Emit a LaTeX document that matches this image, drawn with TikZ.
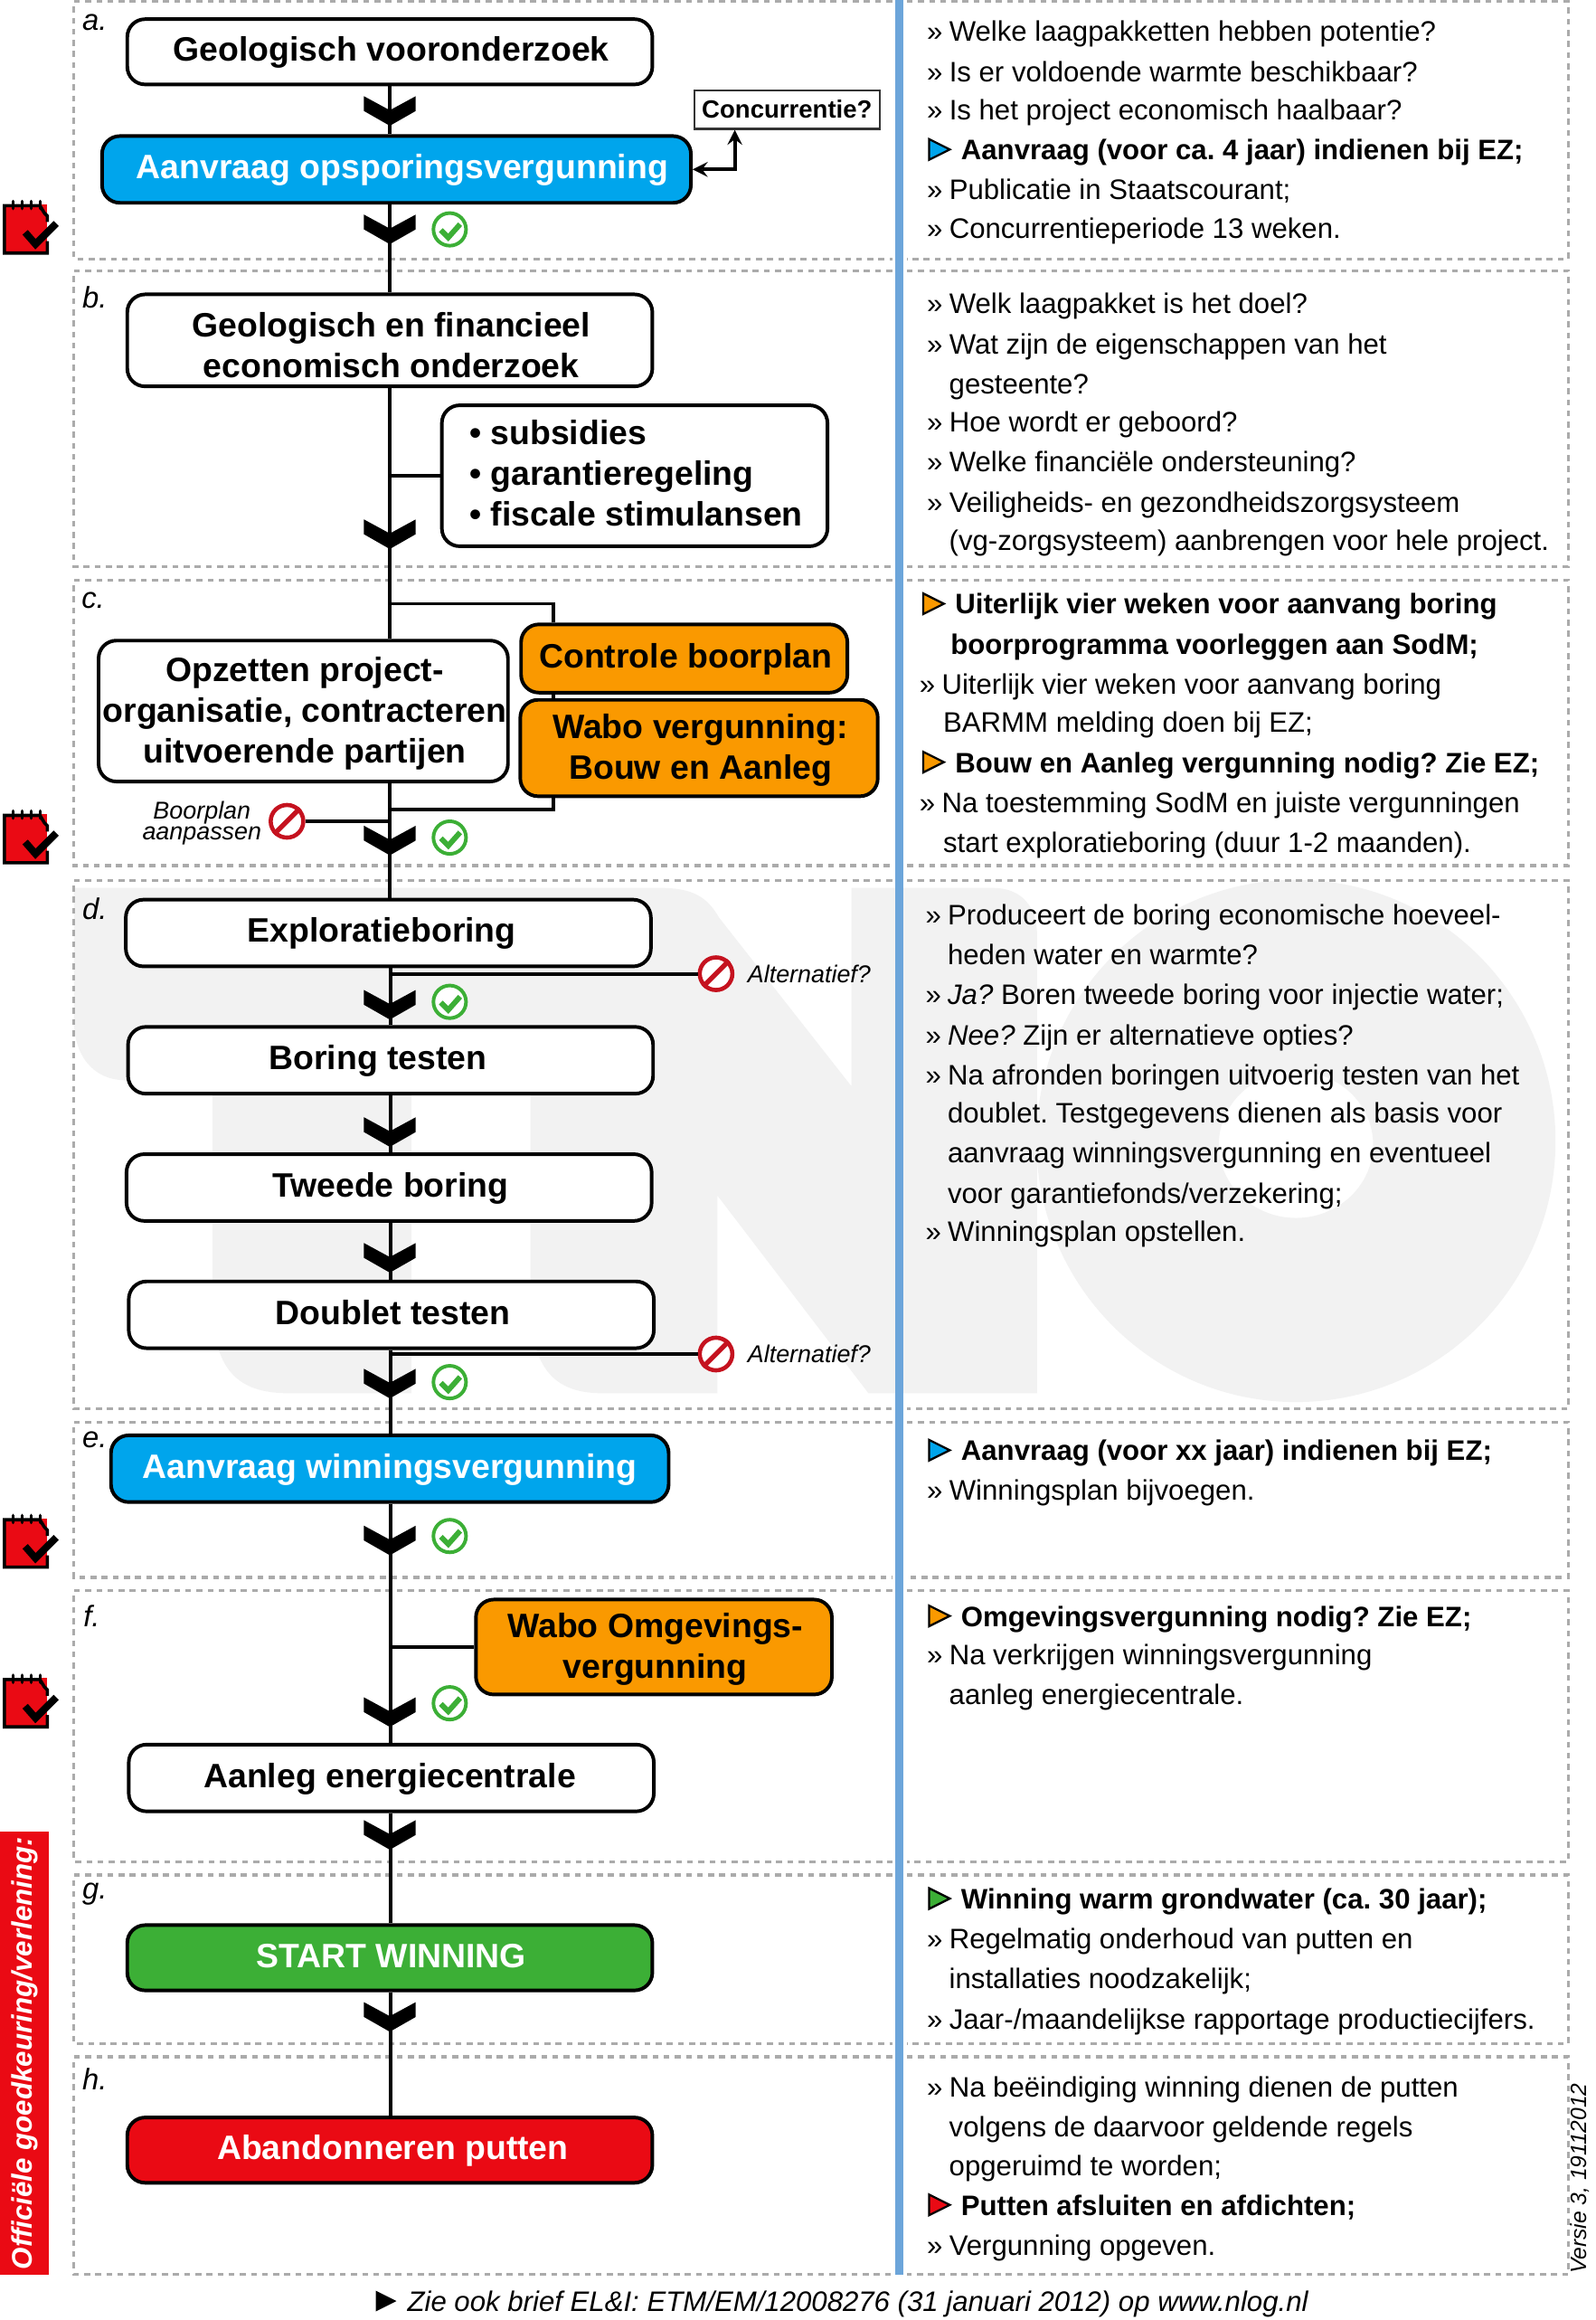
\documentclass[tikz,border=0pt]{standalone}
\usepackage{fontspec}
\setmainfont{Liberation Sans}
\definecolor{tnoblue}{HTML}{00A5EC}
\definecolor{tnoorange}{HTML}{FA9900}
\definecolor{tnogreen}{HTML}{3CAF36}
\definecolor{tnored}{HTML}{EA0A14}
\definecolor{stopred}{HTML}{C5121F}
\definecolor{midblue}{HTML}{6CA5DA}
\tikzset{
	stepbox/.style={draw=black, fill=white, rounded corners=6pt, line width=1.2pt, inner sep=0pt, align=center, font=\bfseries\fontsize{11.4}{13.7}\selectfont, execute at begin node={\hspace*{1pt}\rule[-2.1pt]{0pt}{10.8pt}}, execute at end node={\rule[-2.1pt]{0pt}{2.1pt}}},
	rowline/.style={draw=black!33, line width=1pt, dash pattern=on 2pt off 1.75pt},
	conn/.style={line width=1.2pt},
	rtext/.style={anchor=base west, inner sep=0pt, xshift=-0.4pt, yshift=-0.5pt, font=\fontsize{9.5}{11}\selectfont},
	smalltext/.style={inner sep=0pt, align=center, font=\itshape\fontsize{8.2}{7}\selectfont},
	rowlabel/.style={inner sep=0pt, yshift=-0.5pt, font=\itshape\fontsize{10}{12}\selectfont},
	okring/.style={circle, draw=tnogreen, fill=white, line width=1.2pt, minimum size=11pt, inner sep=0pt},
	stopring/.style={circle, draw=stopred, fill=white, line width=1.4pt, minimum size=11pt, inner sep=0pt}
}
\def\chevron(#1,#2){\fill[shift={(#1,#2)}] (-17.5,-20) -- (0,-10.5) -- (17.5,-20) -- (17.5,-10) -- (0,0) -- (-17.5,-10) -- cycle;}
\def\okmark(#1,#2){\node[okring] (ok#2) at (#1,#2) {}; \draw[shift={(#1,#2)}, tnogreen, line width=1.8pt] (-6,0.5) -- (-1,5.5) -- (7,-3.5);}
\def\stopmark(#1,#2){\node[stopring] (stop#2) at (#1,#2) {}; \draw[stopred, line width=1.6pt] (stop#2.45) -- (stop#2.225);}
\def\notebook(#1,#2){
	\fill[shift={(#1,#2)}, tnored] (1,2) rectangle (30,35);
	\draw[shift={(#1,#2)}, line width=1.1pt] (28,8) -- (30,10) -- (30,14) (30,27) -- (30,35) -- (1,35) -- (1,3) -- (25,3) -- (28,8);
	\foreach \i in {7,13,19,25} \draw[shift={(#1,#2)}, line width=1pt, line cap=round] (\i,0) -- (\i,5);
	\draw[shift={(#1,#2)}, line width=2.4pt] (15,21) -- (22,29) -- (36,15);
}
\def\bul(#1,#2)#3{\node[rtext] (m#2) at (#1,#2) {»}; \node[rtext, xshift=7.5pt] (r#2) at (#1,#2) {#3};}
\def\cont(#1,#2)#3{\node[rtext] (r#2) at (#1,#2) {#3};}
\def\tri(#1,#2)#3#4{\draw[fill=#3, line width=0.7pt] (#1+1,#2-13) -- (#1+15,#2-6) -- (#1+1,#2+1) -- cycle; \node[rtext, font=\bfseries\fontsize{9.5}{11}\selectfont, xshift=11.5pt] (r#2) at (#1,#2) {#4};}
\frenchspacing

\begin{document}
\begin{tikzpicture}[x=0.4987pt, y=-0.4987pt]
	\useasboundingbox (0,0) rectangle (1078.8,1567.8);
	
	%%%%% background %%%%%
	\fill[black!5] (50,600) -- (446,600) .. controls (468,600) and (478,606) .. (486,620) -- (575.5,734) -- (575.5,600) -- (671,600) .. controls (690,600) and (701,612) .. (701,632) -- (701,941.5) -- (587,941.5) -- (485,808) -- (485,941.5) -- (407,941.5) .. controls (375,941.5) and (358.6,925) .. (358.6,880) -- (358.6,730) -- (278,730) -- (278,941.5) -- (195,941.5) .. controls (160,941.5) and (143.7,925) .. (143.7,880) -- (143.7,730) -- (85,730) .. controls (62,730) and (50,712) .. (50,690) -- cycle;
	\fill[black!5, even odd rule] (876,771) ellipse [x radius=87.5pt, y radius=88pt] (876,773.5) ellipse [x radius=26pt, y radius=24.7pt];
	
	\foreach \t/\b in {1/175,183/383,392/585,595/952,961/1066,1075/1258,1267/1381,1390/1537} {
		\draw[rowline] (603,\t) -- (50,\t) -- (50,\b) -- (603,\b);
		\draw[rowline] (613,\t) -- (1060,\t) -- (1060,\b) -- (613,\b);
	}
	\draw[midblue, line width=2.6pt] (608,0) -- (608,1537);
	
	\node[rowlabel] (la) at (64,14) {a.};
	\node[rowlabel] (lb) at (64,200) {b.};
	\node[rowlabel] (lc) at (63,405) {c.};
	\node[rowlabel] (ld) at (64,613) {d.};
	\node[rowlabel] (le) at (64,972) {e.};
	\node[rowlabel] (lf) at (62,1091) {f.};
	\node[rowlabel] (lg) at (64,1279) {g.};
	\node[rowlabel] (lh) at (64,1404) {h.};
	
	%%%%% boxes %%%%%
	\node[stepbox, minimum width=177pt, minimum height=22pt] (a1) at (263.5,35) {Geologisch vooronderzoek};
	\node[stepbox, fill=tnoblue, text=white, minimum width=198.5pt, minimum height=22.5pt] (a2) at (268,114.5) {\hspace*{3pt}Aanvraag opsporingsvergunning};
	\node[draw=black!80, line width=0.7pt, inner sep=0pt, minimum width=62.5pt, minimum height=13pt, font=\bfseries\fontsize{8.4}{10}\selectfont] (conc) at (532,74) {Concurrentie?};
	
	\node[stepbox, minimum width=177pt, minimum height=31pt] (b1) at (263.5,230) {\rule{0pt}{13.3pt}Geologisch en financieel\\economisch onderzoek};
	\node[stepbox, align=left, minimum width=130pt, minimum height=47.5pt] (b2) at (429,321.5) {• subsidies\\• garantieregeling\\• fiscale stimulansen};
	
	\node[stepbox, minimum width=138pt, minimum height=47.5pt] (c1) at (205,480.5) {\rule{0pt}{9.7pt}Opzetten project-\\organisatie, contracteren\\uitvoerende partijen};
	\node[stepbox, fill=tnoorange, minimum width=110pt, minimum height=23pt] (c2) at (462.5,445) {Controle boorplan};
	\node[stepbox, fill=tnoorange, minimum width=120.5pt, minimum height=32.5pt] (c3) at (472.5,505.5) {\rule{0pt}{9.7pt}Wabo vergunning:\\Bouw en Aanleg};
	\node[smalltext] (aanpas) at (136.5,556) {Boorplan\\aanpassen};
	
	\node[stepbox, minimum width=177pt, minimum height=22.5pt] (d1) at (262.5,630.5) {\hspace*{-5.5pt}Exploratieboring};
	\node[stepbox, minimum width=177pt, minimum height=22.5pt] (d2) at (264,716.5) {\hspace*{-9.5pt}Boring testen};
	\node[stepbox, minimum width=177pt, minimum height=22.5pt] (d3) at (263,802.5) {Tweede boring};
	\node[stepbox, minimum width=177pt, minimum height=22.5pt] (d4) at (264.5,888.5) {Doublet testen};
	\node[smalltext, anchor=west] (alt1) at (505,658) {Alternatief?};
	\node[smalltext, anchor=west] (alt2) at (505,915) {Alternatief?};
	
	\node[stepbox, fill=tnoblue, text=white, minimum width=188pt, minimum height=22.5pt] (e1) at (263.5,992.5) {\hspace*{-1pt}Aanvraag winningsvergunning};
	
	\node[stepbox, fill=tnoorange, minimum width=120pt, minimum height=32pt] (f1) at (442,1113) {\rule{0pt}{9.7pt}Wabo Omgevings-\\vergunning};
	\node[stepbox, minimum width=177pt, minimum height=22.5pt] (f2) at (264.5,1201.5) {\hspace*{-2pt}Aanleg energiecentrale};
	
	\node[stepbox, fill=tnogreen, text=white, minimum width=177pt, minimum height=22pt] (g1) at (263.5,1323) {START WINNING};
	\node[stepbox, fill=tnored, text=white, minimum width=177pt, minimum height=22pt] (h1) at (263.5,1453) {\hspace*{1pt}Abandonneren putten};
	
	%%%%% connectors %%%%%
	\draw[conn] (a1.south) -- (a1.south |- a2.north);
	\draw[conn] (a1.south |- a2.south) -- (b1.north);
	\draw[conn, <->, >=stealth] (a2.east) -| ([xshift=14pt]conc.south west);
	\draw[conn] (b1.south) -- (b1.south |- c1.north);
	\coordinate (bsplit) at (b1.south |- b2.west);
	\draw[conn] (bsplit) -- (b2.west);
	\coordinate (ctop) at (264,408);
	\coordinate (cbot) at (264,547);
	\draw[conn] (ctop) -| (c2.north -| 374,0);
	\draw[conn] (374,467) -- (374,473);
	\draw[conn] (374,538) |- (cbot);
	\draw[conn] (b1.south |- c1.south) -- (b1.south |- d1.north);
	\draw[conn] (d2.north -| 264,0) -- (d1.south -| 264,0);
	\draw[conn] (d2.south -| 264,0) -- (d3.north -| 264,0);
	\draw[conn] (d3.south -| 264,0) -- (d4.north -| 264,0);
	\draw[conn] (d4.south -| 264,0) -- (e1.north -| 264,0);
	\draw[conn] (e1.south -| 264,0) -- (f2.north -| 264,0);
	\coordinate (fsplit) at (264,1113);
	\draw[conn] (fsplit) -- (f1.west);
	\draw[conn] (f2.south -| 264,0) -- (g1.north -| 264,0);
	\draw[conn] (g1.south -| 264,0) -- (h1.north -| 264,0);
	
	\stopmark(194,555)
	\stopmark(484,658)
	\stopmark(484,915)
	\draw[conn] (stop555) -- (stop555 -| 264,0);
	\draw[conn] (stop658) -- (stop658 -| 264,0);
	\draw[conn] (stop915) -- (stop915 -| 264,0);
	
	\chevron(263.5,85)
	\chevron(263.5,165)
	\chevron(263.5,371)
	\chevron(263.5,578)
	\chevron(263.5,689)
	\chevron(263.5,775)
	\chevron(263.5,860)
	\chevron(263.5,945)
	\chevron(263.5,1051)
	\chevron(263.5,1167)
	\chevron(263.5,1250)
	\chevron(263.5,1373)
	
	\okmark(304,155)
	\okmark(304,566)
	\okmark(304,677)
	\okmark(304,934)
	\okmark(304,1038)
	\okmark(304,1151)
	
	\notebook(2,136)
	\notebook(2,548)
	\notebook(2,1024)
	\notebook(2,1132)
	
	%%%%% right column %%%%%
	\bul(627,27){Welke laagpakketten hebben potentie?}
	\bul(627,54){Is er voldoende warmte beschikbaar?}
	\bul(627,80){Is het project economisch haalbaar?}
	\tri(627,107){tnoblue}{Aanvraag (voor ca. 4 jaar) indienen bij EZ;}
	\bul(627,134){Publicatie in Staatscourant;}
	\bul(627,160){Concurrentieperiode 13 weken.}
	
	\bul(627,211){Welk laagpakket is het doel?}
	\bul(627,238){Wat zijn de eigenschappen van het}
	\cont(642,265){gesteente?}
	\bul(627,291){Hoe wordt er geboord?}
	\bul(627,318){Welke financiële ondersteuning?}
	\bul(627,345){Veiligheids- en gezondheidszorgsysteem}
	\cont(642,371){(vg-zorgsysteem) aanbrengen voor hele project.}
	
	\tri(623,414){tnoorange}{Uiterlijk vier weken voor aanvang boring}
	\cont(643,441){\bfseries boorprogramma voorleggen aan SodM;}
	\bul(622,468){Uiterlijk vier weken voor aanvang boring}
	\cont(638,494){BARMM melding doen bij EZ;}
	\tri(623,521){tnoorange}{Bouw en Aanleg vergunning nodig? Zie EZ;}
	\bul(622,548){Na toestemming SodM en juiste vergunningen}
	\cont(638,575){start exploratieboring (duur 1-2 maanden).}
	
	\bul(626,624){Produceert de boring economische hoeveel-}
	\cont(641,651){heden water en warmte?}
	\bul(626,678){\textit{Ja?} Boren tweede boring voor injectie water;}
	\bul(626,705){\textit{Nee?} Zijn er alternatieve opties?}
	\bul(626,732){Na afronden boringen uitvoerig testen van het}
	\cont(641,758){doublet. Testgegevens dienen als basis voor}
	\cont(641,785){aanvraag winningsvergunning en eventueel}
	\cont(641,812){voor garantiefonds/verzekering;}
	\bul(626,838){Winningsplan opstellen.}
	
	\tri(627,986){tnoblue}{Aanvraag (voor xx jaar) indienen bij EZ;}
	\bul(627,1013){Winningsplan bijvoegen.}
	
	\tri(627,1098){tnoorange}{Omgevingsvergunning nodig? Zie EZ;}
	\bul(627,1124){Na verkrijgen winningsvergunning}
	\cont(642,1151){aanleg energiecentrale.}
	
	\tri(627,1289){tnogreen}{Winning warm grondwater (ca. 30 jaar);}
	\bul(627,1316){Regelmatig onderhoud van putten en}
	\cont(642,1343){installaties noodzakelijk;}
	\bul(627,1370){Jaar-/maandelijkse rapportage productiecijfers.}
	
	\bul(627,1416){Na beëindiging winning dienen de putten}
	\cont(642,1443){volgens de daarvoor geldende regels}
	\cont(642,1469){opgeruimd te worden;}
	\tri(627,1496){tnored}{Putten afsluiten en afdichten;}
	\bul(627,1523){Vergunning opgeven.}
	
	%%%%% margins %%%%%
	\node[fill=tnored, text=white, rotate=90, inner sep=0pt, minimum width=149.5pt, minimum height=16.5pt, font=\bfseries\itshape\fontsize{9.55}{11}\selectfont] (official) at (16.5,1387.5) {Officiële goedkeuring/verlening:};
	\node[rotate=90, anchor=west, inner sep=0pt, font=\itshape\fontsize{7.5}{9}\selectfont] (versie) at (1068,1537) {Versie 3, 19112012};
	\fill (254,1548) -- (268,1555) -- (254,1562) -- cycle;
	\node[anchor=base west, inner sep=0pt, font=\itshape\fontsize{9.5}{11}\selectfont] (brief) at (275,1562) {Zie ook brief EL\&I: ETM/EM/12008276 (31 januari 2012) op www.nlog.nl};
\end{tikzpicture}
\end{document}
